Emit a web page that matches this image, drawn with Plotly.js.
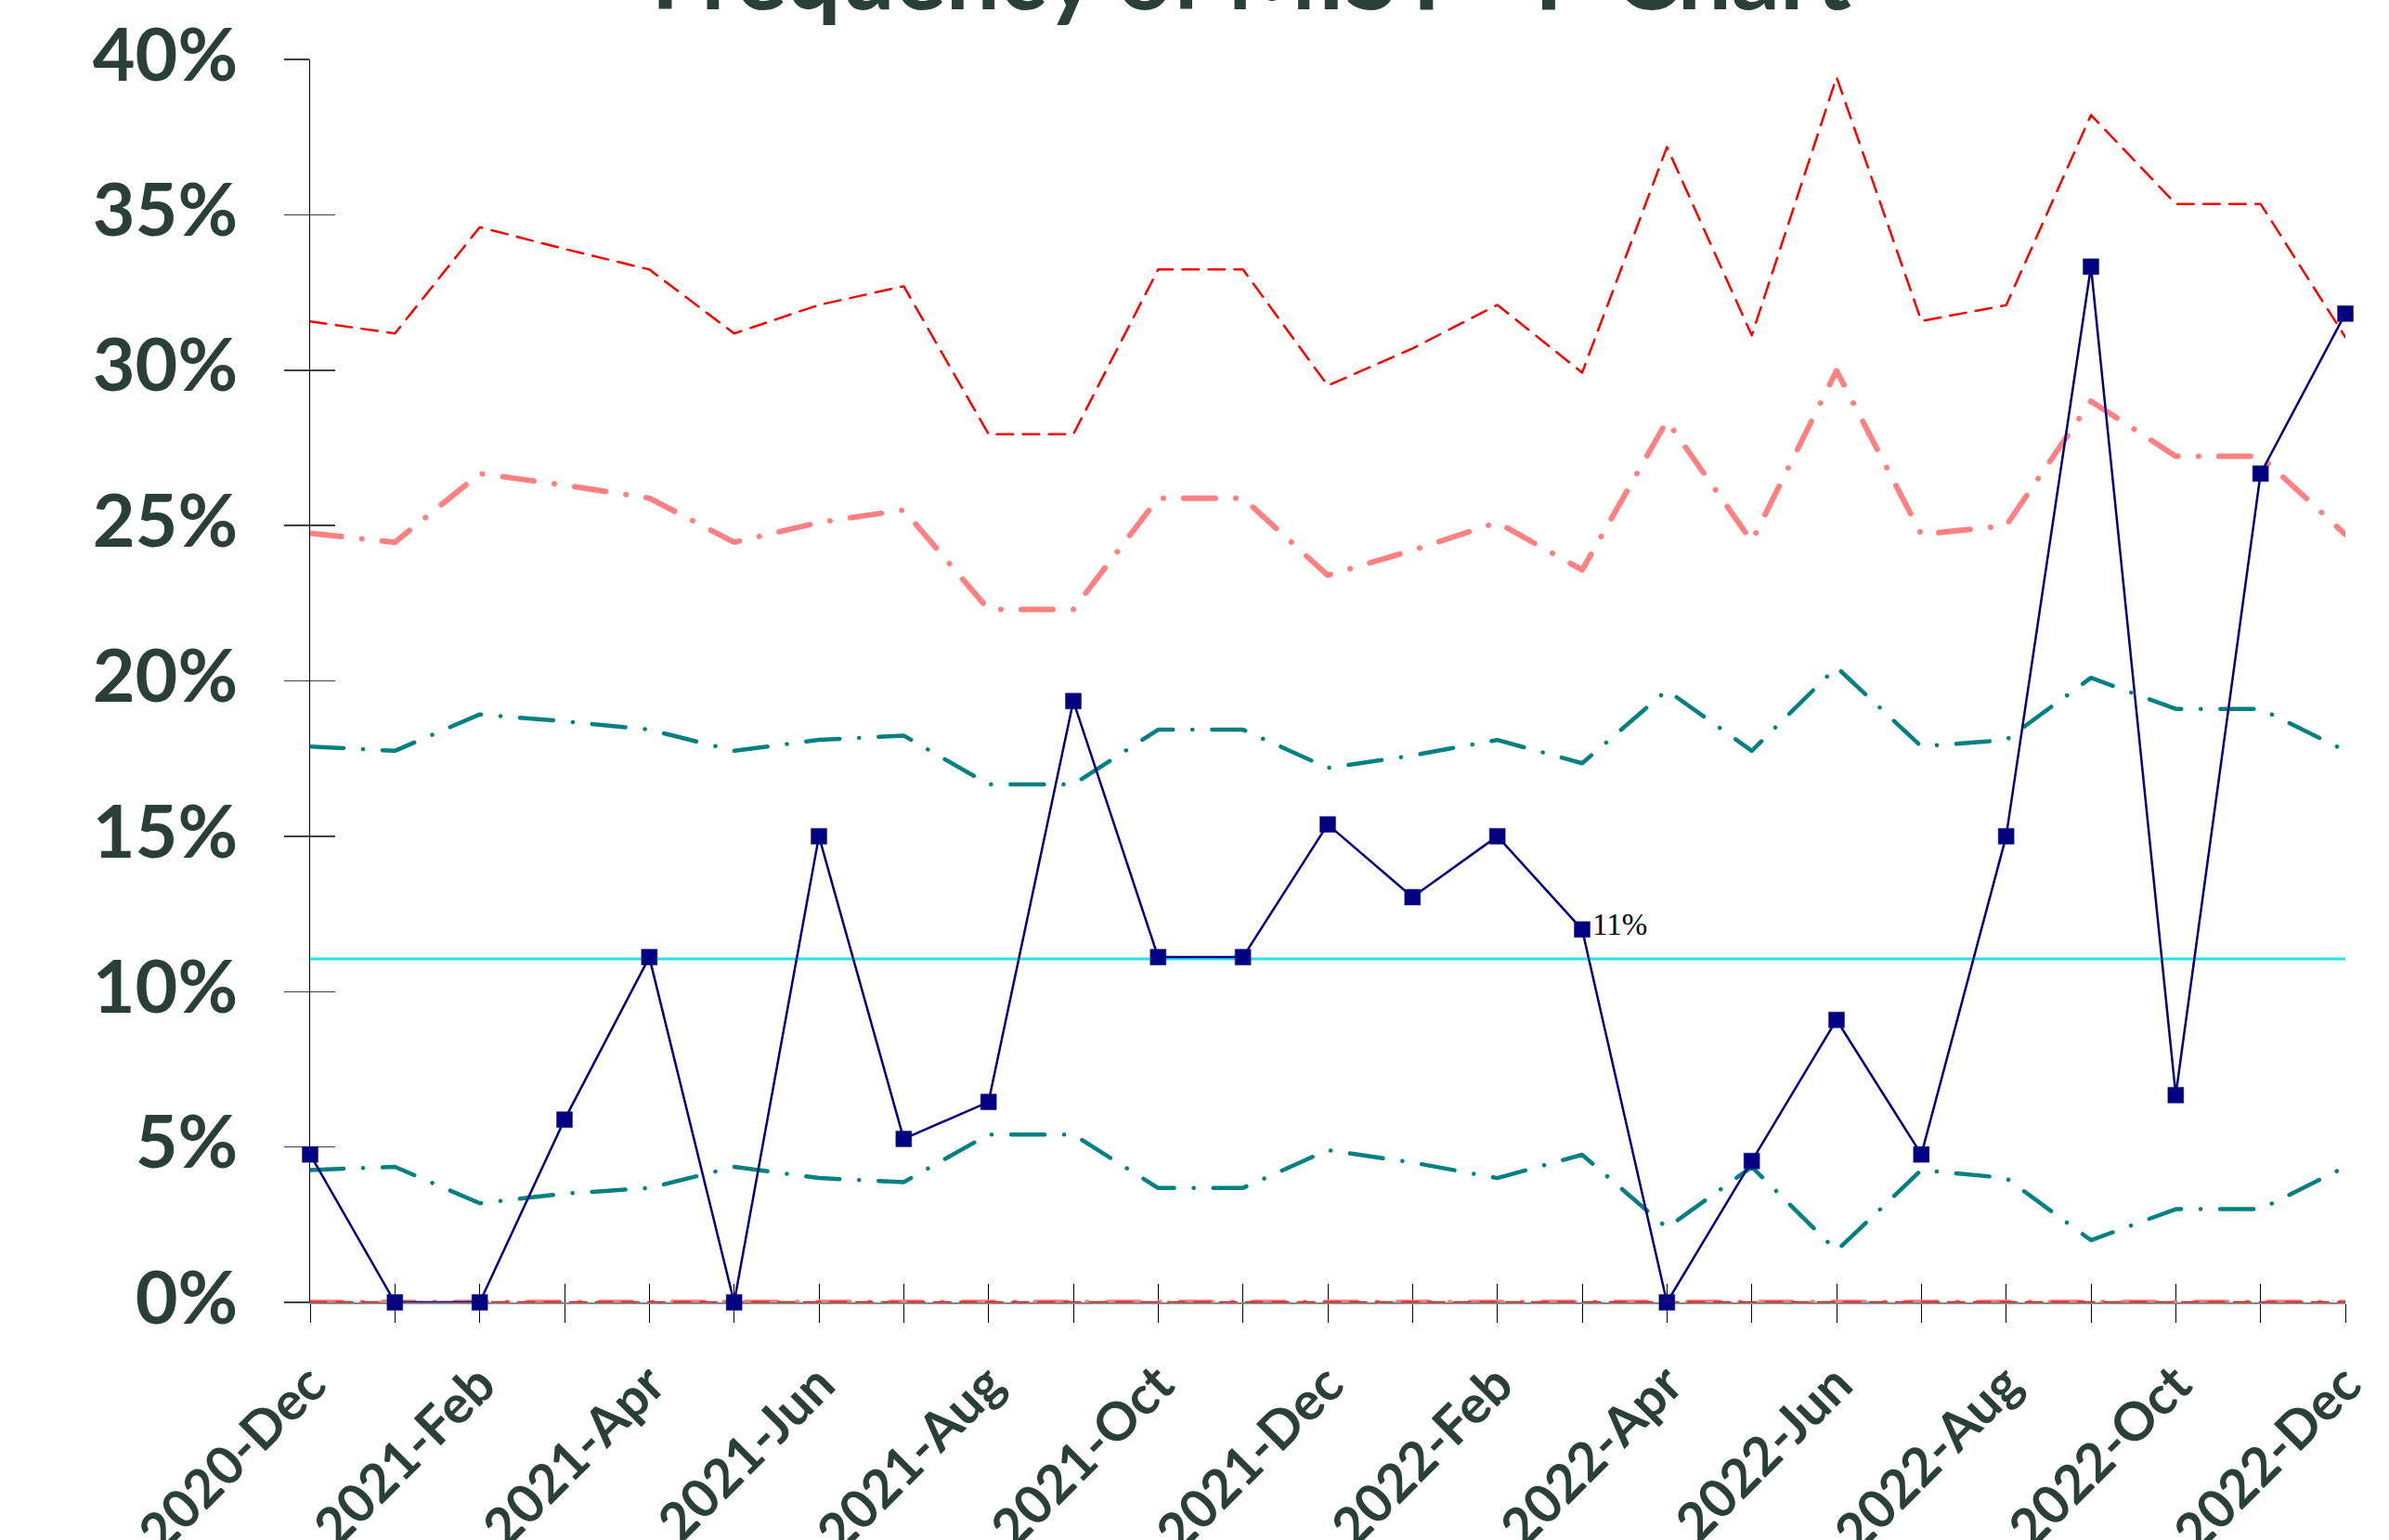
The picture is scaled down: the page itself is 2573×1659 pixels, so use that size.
<!DOCTYPE html>
<html>
<head>
<meta charset="utf-8">
<script src="https://cdn.plot.ly/plotly-3.0.1.min.js"></script>
<style>
html,body{margin:0;padding:0;background:#fff;}
#chart{width:2573px;height:1659px;}
.scatterlayer .js-line{stroke-linecap:round;stroke-linejoin:round;}
</style>
</head>
<body>
<div id="chart"></div>
<script>
// ---- data (values in %) ----
const months = ['2020-Dec','2021-Jan','2021-Feb','2021-Mar','2021-Apr','2021-May','2021-Jun','2021-Jul','2021-Aug','2021-Sep','2021-Oct','2021-Nov','2021-Dec',
                '2022-Jan','2022-Feb','2022-Mar','2022-Apr','2022-May','2022-Jun','2022-Jul','2022-Aug','2022-Sep','2022-Oct','2022-Nov','2022-Dec'];
const tickLabels = ['2020-Dec','','2021-Feb','','2021-Apr','','2021-Jun','','2021-Aug','','2021-Oct','','2021-Dec',
                    '','2022-Feb','','2022-Apr','','2022-Jun','','2022-Aug','','2022-Oct','','2022-Dec'];
const proportion = [4.76, 0, 0, 5.88, 11.11, 0, 15.0, 5.26, 6.45, 19.35, 11.11, 11.11, 15.38, 13.04, 15.0, 12.0, 0, 4.55, 9.09, 4.76, 15.0, 33.33, 6.67, 26.67, 31.82];
const centerLine = [11.05, 11.05, 11.05, 11.05, 11.05, 11.05, 11.05, 11.05, 11.05, 11.05, 11.05, 11.05, 11.05, 11.05, 11.05, 11.05, 11.05, 11.05, 11.05, 11.05, 11.05, 11.05, 11.05, 11.05, 11.05];
const ucl3 = [31.57, 31.18, 34.6, 33.9, 33.24, 31.18, 32.1, 32.7, 27.94, 27.94, 33.24, 33.24, 29.5, 30.7, 32.1, 29.92, 37.18, 31.12, 39.43, 31.58, 32.09, 38.21, 35.35, 35.35, 31.06];
const ucl2 = [24.75, 24.46, 26.67, 26.3, 25.88, 24.46, 25.1, 25.5, 22.3, 22.3, 25.88, 25.88, 23.4, 24.2, 25.1, 23.57, 28.37, 24.49, 29.98, 24.71, 25.0, 29.0, 27.23, 27.23, 24.71];
const ucl1 = [17.89, 17.75, 18.92, 18.7, 18.43, 17.75, 18.1, 18.24, 16.67, 16.67, 18.43, 18.43, 17.2, 17.6, 18.1, 17.35, 19.7, 17.75, 20.44, 17.89, 18.1, 20.1, 19.1, 19.1, 17.75];
const lcl1 = [4.26, 4.36, 3.19, 3.5, 3.68, 4.36, 4.0, 3.87, 5.4, 5.4, 3.68, 3.68, 4.9, 4.5, 4.0, 4.75, 2.4, 4.36, 1.66, 4.26, 4.0, 2.0, 3.0, 3.0, 4.36];
const lcl2 = [0, 0, 0, 0, 0, 0, 0, 0, 0, 0, 0, 0, 0, 0, 0, 0, 0, 0, 0, 0, 0, 0, 0, 0, 0];
const lcl3 = [0, 0, 0, 0, 0, 0, 0, 0, 0, 0, 0, 0, 0, 0, 0, 0, 0, 0, 0, 0, 0, 0, 0, 0, 0];
const titleText = 'Frequency of MIST - P Chart';
const labelIndex = 15;
const labelText = '11%';

const textColor = '#2a3f38';
const tealStyle = {color:'#008080', width:4.5, dash:'36px,21px,0.1px,21px'};
const pinkStyle = {color:'#ff8080', width:6, dash:'34px,22px,0.1px,22px'};
const redStyle  = {color:'#ff0000', width:2.5, dash:'17.5px,10.5px'};

function line(y, style){
  return {x: months, y: y, type:'scatter', mode:'lines', line: style, cliponaxis:false, showlegend:false, hoverinfo:'skip'};
}

const traces = [
  line(ucl1, tealStyle),
  line(lcl1, tealStyle),
  line(centerLine, {color:'#22e4ec', width:3}),
  line(ucl2, pinkStyle),
  line(lcl2, pinkStyle),
  line(ucl3, redStyle),
  line(lcl3, redStyle),
  {x: months, y: proportion, type:'scatter', mode:'lines+markers', cliponaxis:false, showlegend:false,
   line:{color:'#000080', width:2.5},
   marker:{symbol:'square', size:17, color:'#000080', line:{color:'#1a1a90', width:0.5}}},
  // carrier for the overlaid tick-only axes (cross ticks)
  {x: [], y: [], xaxis:'x2', yaxis:'y2', type:'scatter', mode:'lines', showlegend:false, hoverinfo:'skip'}
];

const layout = {
  width: 2573, height: 1659,
  margin: {l:334, r:47, t:64, b:256},
  paper_bgcolor:'#ffffff', plot_bgcolor:'#ffffff',
  showlegend:false,
  title: {text: titleText, font:{family:'Lato', size:103, color:textColor, weight:'bold'},
          x:0.5237, xref:'container', xanchor:'center', y:0.994, yref:'container', yanchor:'bottom'},
  xaxis: {type:'category', categoryorder:'array', categoryarray: months, range:[0, 24],
          tickmode:'array', tickvals: months, ticktext: tickLabels, tickangle:-45,
          ticks:'outside', ticklen:20, tickwidth:1, tickcolor:'#000000', ticklabelstandoff:10,
          showline:true, linecolor:'#868686', linewidth:2, showgrid:false, zeroline:false,
          layer:'below traces',
          tickfont:{family:'Lato', size:57, color:textColor, weight:'bold'}},
  yaxis: {range:[0, 40], dtick:5, tick0:0, ticksuffix:'%',
          ticks:'outside', ticklen:27, tickwidth:1.5, tickcolor:'#404040',
          ticklabelstandoff:34, ticklabelshift:-5,
          showline:true, linecolor:'#000000', linewidth:1, showgrid:false, zeroline:false,
          layer:'below traces',
          tickfont:{family:'Lato', size:79, color:textColor, weight:'bold'}},
  xaxis2: {overlaying:'x', anchor:'y', side:'bottom', range:[0, 24], dtick:1, tick0:0,
           ticks:'inside', ticklen:20, tickwidth:1, tickcolor:'#000000',
           showticklabels:false, showline:false, showgrid:false, zeroline:false, layer:'below traces'},
  yaxis2: {overlaying:'y', anchor:'x', side:'left', range:[0, 40], dtick:5, tick0:0,
           ticks:'inside', ticklen:27, tickwidth:1.5, tickcolor:'#404040',
           showticklabels:false, showline:false, showgrid:false, zeroline:false, layer:'below traces'},
  annotations: [{x: months[labelIndex], y: centerLine[labelIndex], xref:'x', yref:'y',
                 text: labelText, showarrow:false, xanchor:'left', yanchor:'middle',
                 xshift:9, yshift:37,
                 font:{family:'Liberation Serif', size:33, color:'#000000'}}]
};

Plotly.newPlot('chart', traces, layout, {displayModeBar:false, staticPlot:true});
</script>
</body>
</html>
